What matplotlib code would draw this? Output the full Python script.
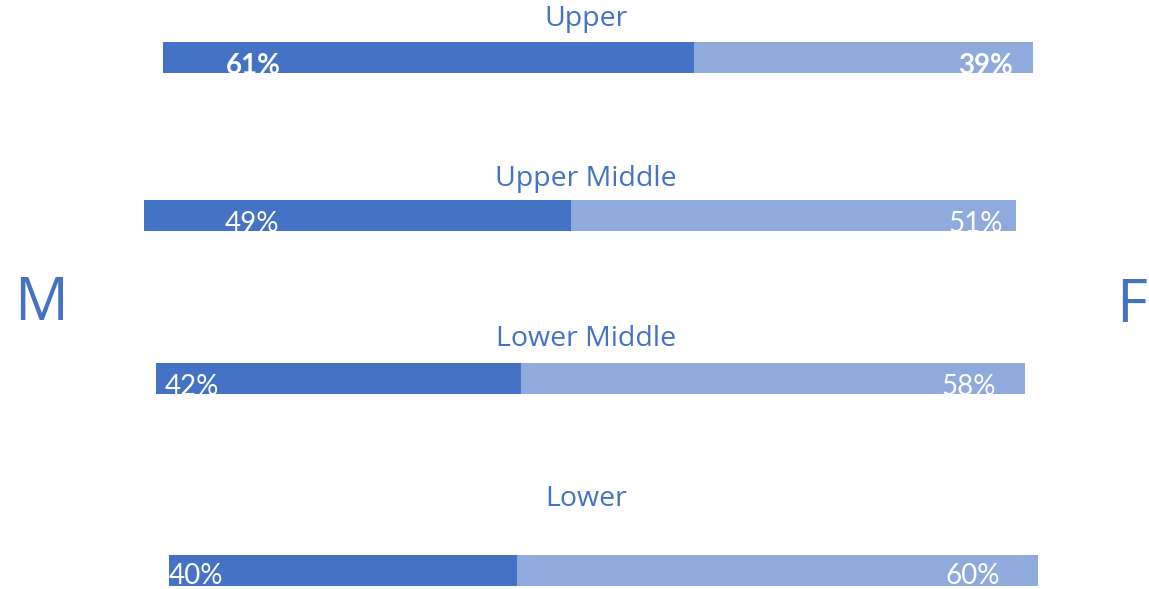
import matplotlib
matplotlib.use("Agg")
import matplotlib.pyplot as plt

categories = ["Upper", "Upper Middle", "Lower Middle", "Lower"]
male_pct = [61, 49, 42, 40]
female_pct = [39, 51, 58, 60]
bold_labels = [True, False, False, False]

DARK = "#4472C4"
LIGHT = "#8FAADC"
W, H = 1149, 589

plt.rcParams['font.family'] = ['Lato', 'DejaVu Sans']
fig = plt.figure(figsize=(W / 100, H / 100), dpi=100)
fig.patch.set_facecolor("white")

# layout (pixels): bar left, bar right, bar top, title baseline, label offsets
bar_left = [163, 144, 156, 169]
bar_right = [1033, 1016, 1025, 1038]
bar_top = [42, 200, 363, 555]
bar_h = 31
title_base = [26, 186, 346, 506]
lab_left_off = [63, 81, 9, 0]
lab_right_off = [20, 13, 29, 38]
lab_drop = [1, 1, 1, -2]

for i, cat in enumerate(categories):
    x0, x1, yt = bar_left[i], bar_right[i], bar_top[i]
    ax = fig.add_axes([x0 / W, (H - yt - bar_h) / H, (x1 - x0) / W, bar_h / H])
    ax.barh([0], [male_pct[i]], height=1, color=DARK, left=0)
    ax.barh([0], [female_pct[i]], height=1, color=LIGHT, left=male_pct[i])
    ax.set_xlim(0, male_pct[i] + female_pct[i])
    ax.set_ylim(-0.5, 0.5)
    ax.axis("off")
    wpx = x1 - x0
    total = male_pct[i] + female_pct[i]
    fw = "bold" if bold_labels[i] else "normal"
    ybase = -0.5 - lab_drop[i] / bar_h
    ax.text(lab_left_off[i] / wpx * total, ybase, f"{male_pct[i]}%", color="white",
            fontsize=20, fontweight=fw, ha="left", va="baseline", clip_on=False)
    ax.text(total - lab_right_off[i] / wpx * total, ybase, f"{female_pct[i]}%", color="white",
            fontsize=20, fontweight=fw, ha="right", va="baseline", clip_on=False)
    fig.text(586 / W, 1 - title_base[i] / H, cat, color=DARK, fontsize=20.5,
             family=['Open Sans', 'DejaVu Sans'], ha="center", va="baseline")

fig.text(41 / W, 1 - 320 / H, "M", color=DARK, fontsize=43,
         family=['Open Sans', 'DejaVu Sans'], ha="center", va="baseline")
fig.text(1132 / W, 1 - 322 / H, "F", color=DARK, fontsize=43,
         family=['Open Sans', 'DejaVu Sans'], ha="center", va="baseline")

fig.savefig("out.png", dpi=100, facecolor="white")
